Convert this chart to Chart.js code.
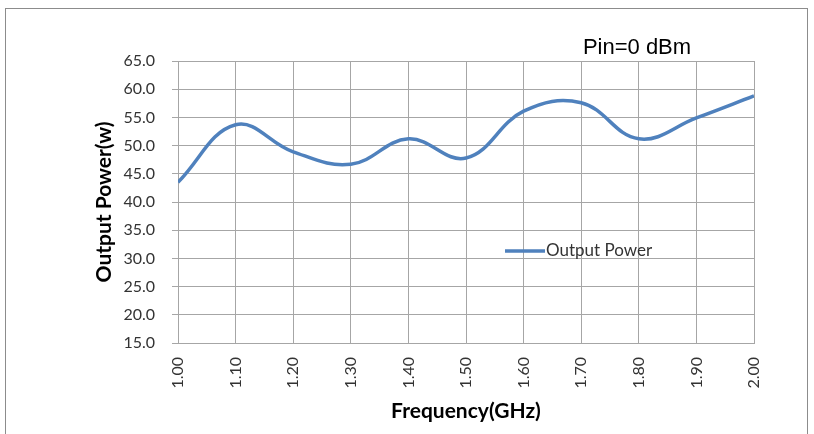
<!DOCTYPE html>
<html>
<head>
<meta charset="utf-8">
<script src="https://cdn.jsdelivr.net/npm/chart.js@4.4.1/dist/chart.umd.min.js"></script>
<style>
  html, body { margin: 0; padding: 0; background: #fff; }
  #wrap { position: relative; width: 814px; height: 434px; overflow: hidden; }
  #frame { position: absolute; left: 5px; top: 8px; width: 803px; height: 440px; border: 1px solid #8c8c8c; box-sizing: border-box; }
  #myChart { position: absolute; left: 0; top: 0; }
</style>
</head>
<body>
<div id="wrap">
  <div id="frame"></div>
  <canvas id="myChart" width="814" height="434"></canvas>
</div>
<script>
// values
const frequencies = [1.00, 1.10, 1.20, 1.30, 1.40, 1.50, 1.60, 1.70, 1.80, 1.90, 2.00];
const outputPower = [43.5, 53.7, 48.9, 46.7, 51.2, 47.8, 56.1, 57.6, 51.2, 54.9, 58.8];
const seriesName = 'Output Power';
const chartTitle = 'Pin=0 dBm';

const gridColor = '#a6a6a6';
const lineColor = '#4f81bd';

// title and in-plot legend drawn on the canvas
const extras = {
    id: 'extras',
    afterDraw(chart) {
        const c = chart.ctx;
        const ds = chart.data.datasets[0];
        c.save();
        c.fillStyle = '#000';
        c.font = '22px "Liberation Sans", Arial, sans-serif';
        c.textAlign = 'center';
        c.textBaseline = 'alphabetic';
        c.fillText(chartTitle, 637, 54);

        c.strokeStyle = ds.borderColor;
        c.lineWidth = 3.5;
        c.beginPath();
        c.moveTo(505, 251);
        c.lineTo(545, 251);
        c.stroke();
        c.fillStyle = '#333';
        c.font = '17px Lato, sans-serif';
        c.textAlign = 'left';
        c.textBaseline = 'middle';
        c.fillText(ds.label, 546, 251);
        c.restore();
    }
};

new Chart(document.getElementById('myChart'), {
    type: 'line',
    data: {
        datasets: [{
            label: seriesName,
            data: frequencies.map((f, i) => ({ x: f, y: outputPower[i] })),
            borderColor: lineColor,
            borderWidth: 3.5,
            pointRadius: 0,
            tension: 0.4,
            fill: false
        }]
    },
    options: {
        responsive: false,
        animation: false,
        layout: { padding: { left: 92, top: 61, right: 60, bottom: 8 } },
        plugins: {
            legend: { display: false },
            tooltip: { enabled: false }
        },
        scales: {
            x: {
                type: 'linear',
                min: 1.0,
                max: 2.0,
                afterFit: (s) => { s.height = 83; },
                afterBuildTicks: (s) => { s.ticks = frequencies.map(v => ({ value: v })); },
                grid: { color: gridColor, drawTicks: false },
                border: { color: gridColor },
                ticks: {
                    maxRotation: 90,
                    minRotation: 90,
                    padding: 14,
                    color: '#333',
                    font: { family: 'Lato', size: 16 },
                    callback: (v) => Number(v).toFixed(2)
                },
                title: {
                    display: true,
                    text: 'Frequency(GHz)',
                    color: '#000',
                    font: { family: 'Lato', size: 21, weight: 'bold' },
                    padding: { top: 2, bottom: 2 }
                }
            },
            y: {
                min: 15,
                max: 65,
                afterFit: (s) => { s.width = 86; },
                grid: { color: gridColor, tickLength: 6 },
                border: { color: gridColor },
                ticks: {
                    stepSize: 5,
                    padding: 17,
                    color: '#333',
                    font: { family: 'Lato', size: 16 },
                    callback: (v) => Number(v).toFixed(1)
                },
                title: {
                    display: true,
                    text: 'Output Power(w)',
                    color: '#000',
                    font: { family: 'Lato', size: 21, weight: 'bold' },
                    padding: { top: 0, bottom: 2 }
                }
            }
        }
    },
    plugins: [extras]
});
</script>
</body>
</html>
